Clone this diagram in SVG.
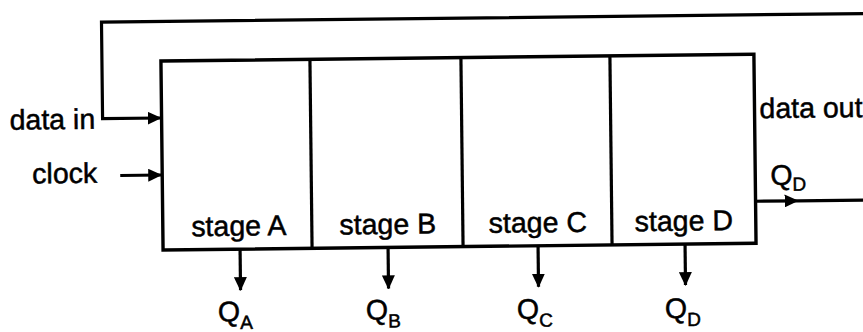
<svg xmlns="http://www.w3.org/2000/svg" width="863" height="332" viewBox="0 0 863 332">
  <defs>
    <style>
      .wire { fill: none; stroke: #000; stroke-width: 3.2; }
      .box { fill: #fff; stroke: #000; stroke-width: 3.4; }
      .lbl { font-family: "Liberation Sans", Arial, sans-serif; font-size: 28.5px; fill: #000; stroke: #000; stroke-width: 0.5; }
      .sub { font-size: 19px; }
    </style>
    <marker id="arrow" viewBox="0 0 14 13" refX="13" refY="6.5" markerWidth="14" markerHeight="13" markerUnits="userSpaceOnUse" orient="auto">
      <path d="M0,0 L14,6.5 L0,13 Z" fill="#000"/>
    </marker>
  </defs>
  <rect width="863" height="332" fill="#fff"/>
  <g transform="rotate(-0.65 162 155)">
    <!-- connectors -->
    <g id="connectors">
      <path id="feedback" class="wire" d="M875,21.5 L103,21.5 L103,118 L161,118" marker-end="url(#arrow)"/>
      <path id="clock-in" class="wire" d="M120,175 L161,175" marker-end="url(#arrow)"/>
      <path id="out-d" class="wire" d="M755,208 L797,208 L875,208" marker-mid="url(#arrow)"/>
      <path id="q-a" class="wire" d="M239,250 L239,291" marker-end="url(#arrow)"/>
      <path id="q-b" class="wire" d="M387,250 L387,291" marker-end="url(#arrow)"/>
      <path id="q-c" class="wire" d="M537,250 L537,291" marker-end="url(#arrow)"/>
      <path id="q-d" class="wire" d="M684,250 L684,291" marker-end="url(#arrow)"/>
    </g>
    <!-- shift register -->
    <g id="register">
      <rect class="box" x="162" y="61" width="593" height="189"/>
    </g>
    <g id="stage-a">
      <text class="lbl" x="238" y="236.5" text-anchor="middle">stage A</text>
    </g>
    <g id="stage-b">
      <line class="wire" x1="311" y1="61" x2="311" y2="250"/>
      <text class="lbl" x="387" y="236.5" text-anchor="middle">stage B</text>
    </g>
    <g id="stage-c">
      <line class="wire" x1="462" y1="61" x2="462" y2="250"/>
      <text class="lbl" x="537" y="236.5" text-anchor="middle">stage C</text>
    </g>
    <g id="stage-d">
      <line class="wire" x1="611" y1="61" x2="611" y2="250"/>
      <text class="lbl" x="683" y="236.5" text-anchor="middle">stage D</text>
    </g>
    <!-- input / output labels -->
    <g id="label-data-in"><text class="lbl" x="10" y="128">data in</text></g>
    <g id="label-clock"><text class="lbl" x="32" y="182">clock</text></g>
    <g id="label-data-out"><text class="lbl" x="760" y="125">data out</text></g>
    <g id="label-qd-right"><text class="lbl" x="770" y="192">Q<tspan class="sub" dy="6">D</tspan></text></g>
    <g id="label-qa"><text class="lbl" x="216" y="322">Q<tspan class="sub" dy="8">A</tspan></text></g>
    <g id="label-qb"><text class="lbl" x="364" y="322">Q<tspan class="sub" dy="8">B</tspan></text></g>
    <g id="label-qc"><text class="lbl" x="515" y="323">Q<tspan class="sub" dy="8">C</tspan></text></g>
    <g id="label-qd"><text class="lbl" x="663" y="324">Q<tspan class="sub" dy="8">D</tspan></text></g>
  </g>
</svg>
